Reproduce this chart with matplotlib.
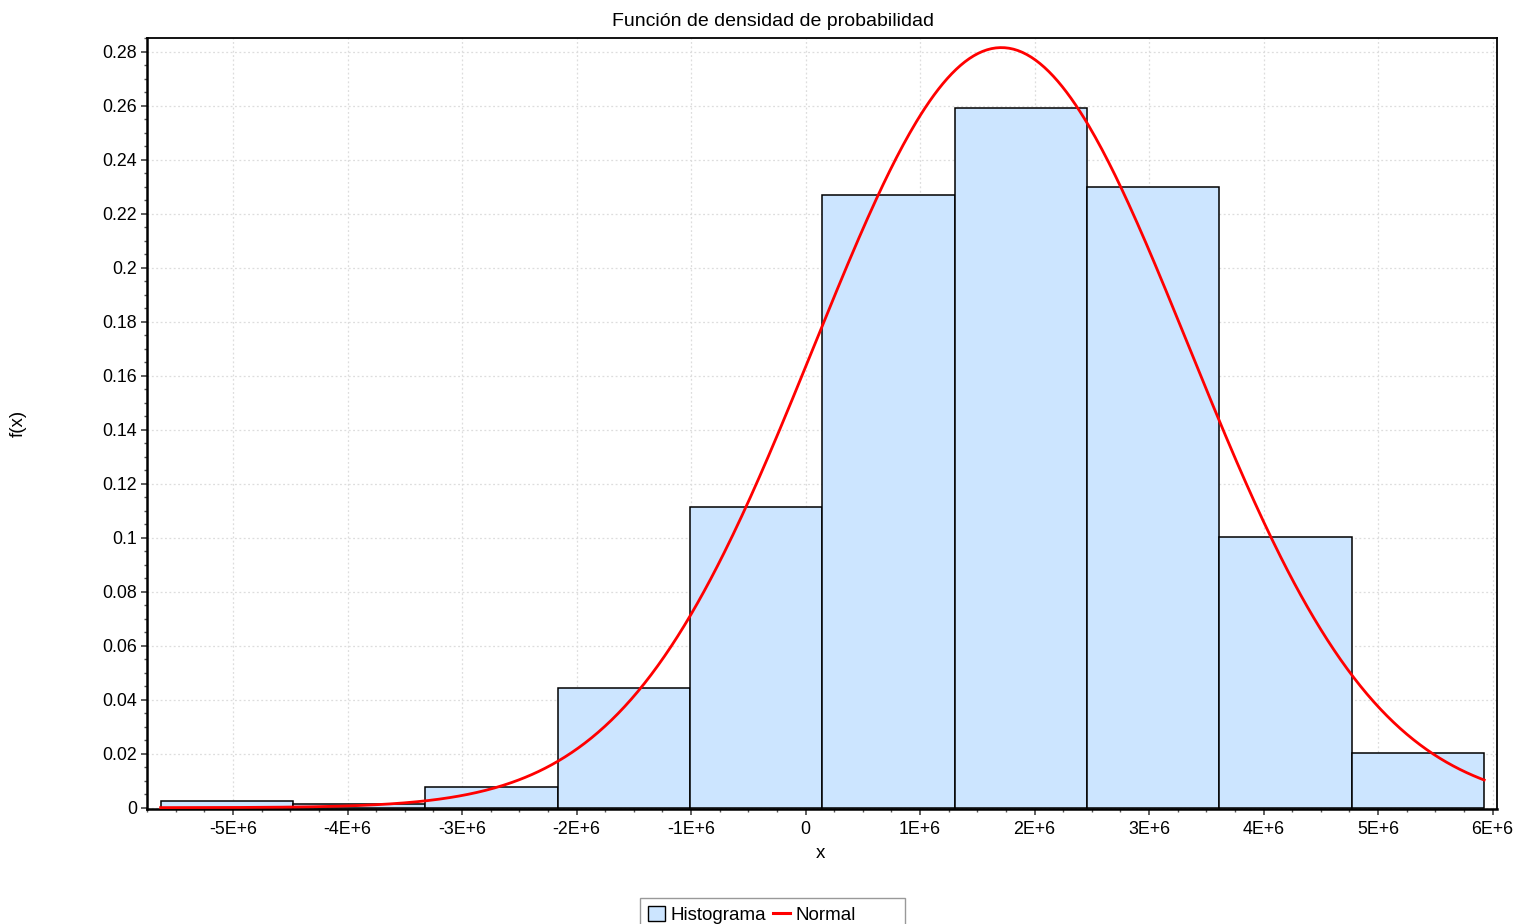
import numpy as np
import matplotlib
matplotlib.use("Agg")
import matplotlib.pyplot as plt
from matplotlib.ticker import MultipleLocator, FuncFormatter
from matplotlib.patches import Patch, Rectangle
from matplotlib.lines import Line2D

plt.rcParams['font.family'] = ['Liberation Sans', 'DejaVu Sans']

# histogram data (relative frequency per bin)
bin_edges = [-5.633e6, -4.477e6, -3.321e6, -2.165e6, -1.009e6,
             0.147e6, 1.303e6, 2.459e6, 3.615e6, 4.771e6, 5.927e6]
rel_freq = [0.0024, 0.0012, 0.0076, 0.0443, 0.1114,
            0.2269, 0.2591, 0.2299, 0.1001, 0.0201]

# fitted normal
mu = 1.71e6
sigma = 1.638e6

x_ticks = [-5e6, -4e6, -3e6, -2e6, -1e6, 0, 1e6, 2e6, 3e6, 4e6, 5e6, 6e6]
y_ticks = [0, 0.02, 0.04, 0.06, 0.08, 0.1, 0.12, 0.14, 0.16, 0.18, 0.2,
           0.22, 0.24, 0.26, 0.28]

W, H = 1531, 924
fig = plt.figure(figsize=(W / 100, H / 100), dpi=100)
ax = fig.add_axes([147 / W, (H - 809) / H, 1350 / W, 771 / H])

edges = np.array(bin_edges)
widths = np.diff(edges)
ax.bar(edges[:-1], rel_freq, width=widths, align='edge', color='#cce5ff',
       edgecolor='black', linewidth=1.1, zorder=2)

# normal curve scaled to bin width
bw = widths.mean()
xs = np.linspace(edges[0], edges[-1], 600)
ys = bw * np.exp(-0.5 * ((xs - mu) / sigma) ** 2) / (sigma * np.sqrt(2 * np.pi))
ax.plot(xs, ys, color='#ff0000', linewidth=2.0, zorder=3)

ax.set_xlim(-5.752e6, 6.039e6)
ax.set_ylim(-0.0005, 0.2851)

ax.set_xticks(x_ticks)
ax.set_yticks(y_ticks)
ax.xaxis.set_minor_locator(MultipleLocator(0.25e6))
ax.yaxis.set_minor_locator(MultipleLocator(0.005))


def xfmt(v, pos):
    if abs(v) < 1:
        return '0'
    return '%dE+6' % round(v / 1e6)


ax.xaxis.set_major_formatter(FuncFormatter(xfmt))
ax.yaxis.set_major_formatter(FuncFormatter(lambda v, p: '%g' % round(v, 3)))

ax.tick_params(which='major', direction='out', length=4, width=1.1,
               labelsize=12.8, pad=3, color='#333333')
ax.tick_params(which='minor', direction='out', length=2.5, width=1.0,
               color='#555555')
ax.tick_params(axis='x', which='major', pad=5)

ax.grid(True, which='major', linestyle=(0, (1.5, 2)), color='#dddddd',
        linewidth=0.9, zorder=0)
ax.set_axisbelow(True)

for side in ['left', 'bottom']:
    ax.spines[side].set_linewidth(1.8)
for side in ['top', 'right']:
    ax.spines[side].set_linewidth(1.3)

ax.set_title('Función de densidad de probabilidad', fontsize=14,
             x=(773 - 147) / 1350, pad=9)
ax.set_xlabel('x', fontsize=13.5)
ax.set_ylabel('f(x)', fontsize=13.5)
ax.xaxis.label.set_va('center')
ax.yaxis.label.set_va('center')
ax.xaxis.set_label_coords((820 - 147) / 1350, (809 - 853) / 771)
ax.yaxis.set_label_coords((18 - 147) / 1350, 0.5)

# legend box (runs past the bottom edge like the original)
fig.patches.append(Rectangle((640 / W, -10 / H), 265 / W, (H - 898 + 10) / H,
                             transform=fig.transFigure, facecolor='white',
                             edgecolor='#999999', linewidth=1.0, zorder=1))

handles = [Patch(facecolor='#cce5ff', edgecolor='black', linewidth=1.0),
           Line2D([0], [0], color='#ff0000', linewidth=2.2)]
leg = fig.legend(handles, ['Histograma', 'Normal'], loc='upper left',
                 bbox_to_anchor=(643 / W, (H - 901) / H), ncol=2,
                 fontsize=13.5, frameon=False,
                 handlelength=0.9, handleheight=0.9, handletextpad=0.3,
                 columnspacing=0.4, borderpad=0.25, borderaxespad=0)
leg.set_zorder(2)

fig.savefig('out.png', dpi=100)
